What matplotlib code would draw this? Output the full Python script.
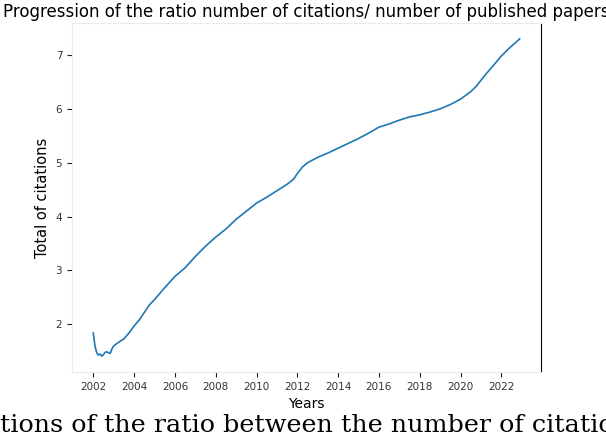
import matplotlib
matplotlib.use("Agg")
import matplotlib.pyplot as plt

# ratio citations / papers
years = [2002.0, 2002.08, 2002.17, 2002.25, 2002.33, 2002.42, 2002.5, 2002.58,
         2002.67, 2002.75, 2002.83, 2002.92, 2003.0, 2003.25, 2003.5, 2003.75,
         2004.0, 2004.25, 2004.5, 2004.75, 2005.0, 2005.5, 2006.0, 2006.5,
         2007.0, 2007.5, 2008.0, 2008.5, 2009.0, 2009.5, 2010.0, 2010.5,
         2011.0, 2011.5, 2011.83, 2012.0, 2012.25, 2012.5, 2013.0, 2013.5,
         2014.0, 2014.5, 2015.0, 2015.5, 2016.0, 2016.5, 2017.0, 2017.5,
         2018.0, 2018.5, 2019.0, 2019.5, 2020.0, 2020.5, 2020.8, 2021.0,
         2021.3, 2021.6, 2022.0, 2022.4, 2022.9]
ratio = [1.84, 1.60, 1.47, 1.43, 1.45, 1.41, 1.44, 1.48,
         1.49, 1.47, 1.46, 1.55, 1.60, 1.67, 1.73, 1.84,
         1.97, 2.08, 2.22, 2.36, 2.46, 2.68, 2.89, 3.05,
         3.26, 3.45, 3.62, 3.77, 3.95, 4.10, 4.25, 4.36,
         4.48, 4.60, 4.70, 4.80, 4.92, 5.00, 5.10, 5.18,
         5.27, 5.36, 5.45, 5.55, 5.66, 5.72, 5.79, 5.85,
         5.89, 5.94, 6.00, 6.08, 6.18, 6.32, 6.43, 6.53,
         6.67, 6.80, 6.98, 7.13, 7.30]
xticks = list(range(2002, 2023, 2))

fig = plt.figure(figsize=(6.06, 4.32), dpi=100)
ax = fig.add_axes([0.1188, 0.1389, 0.7739, 0.8079])
ax.plot(years, ratio, color='#1f77b4', lw=1.2)

ax.set_xticks(xticks)
ax.tick_params(labelsize=7.5, length=3.5, color='#222222', labelcolor='#333333')
for s in ['left', 'top', 'bottom']:
    ax.spines[s].set_color('#ebebeb')
ax.spines['right'].set_color('black')

ax.set_xlabel('Years', fontsize=10)
ax.set_ylabel('Total of citations', fontsize=10.5)
fig.text(0.505, 0.993, 'Progression of the ratio number of citations/ number of published papers',
         ha='center', va='top', fontsize=12)

# caption of the source document, cut at the bottom edge
fig.text(0.0, 0.042, 'tions of the ratio between the number of citations',
         ha='left', va='top', fontsize=18.3, family='DejaVu Serif')

fig.savefig('out.png', dpi=100)
